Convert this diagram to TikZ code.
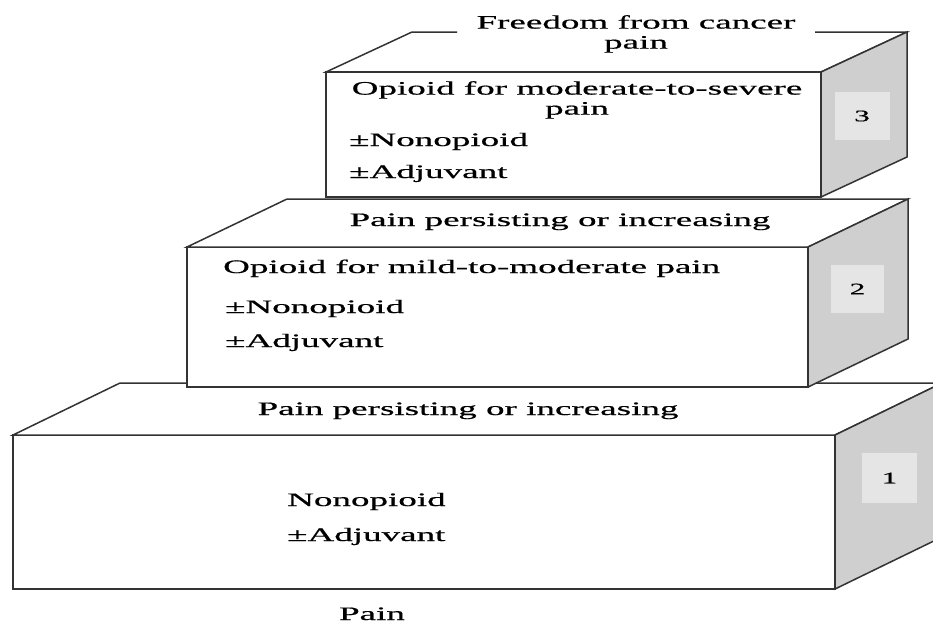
\documentclass[tikz,border=0pt]{standalone}
\usepackage{fontspec}
\setmainfont{Liberation Serif}[FakeStretch=1.95, FakeBold=0.6]
\usetikzlibrary{calc}

% one step of the ladder: front face, top face and shaded side face
% #1,#2 = front top-left, #3,#4 = front bottom-right, #5,#6 = depth offset
\newcommand{\ladderblock}[6]{%
  \draw[facestyle] (#1,#2) rectangle (#3,#4);
  \draw[facestyle] (#1,#2) -- ++(#5,-#6) -- ($(#3,#2)+(#5,-#6)$) -- (#3,#2) -- cycle;
  \draw[sidestyle] (#3,#2) -- ++(#5,-#6) -- ++(0,#4-#2) -- (#3,#4) -- cycle;
}

\begin{document}
\begin{tikzpicture}[x=1pt,y=-1pt,
  edgestyle/.style={draw=black!80, line width=1.5pt, line join=miter},
  facestyle/.style={edgestyle, fill=white},
  sidestyle/.style={edgestyle, fill=black!19},
  tagstyle/.style={fill=black!10, inner sep=0pt, minimum width=55pt, minimum height=48pt,
    font=\fontsize{16}{16}\selectfont},
  lbl/.style={inner sep=0pt, font=\fontsize{19}{20}\selectfont},
]
\useasboundingbox (0,0) rectangle (933,625);
\clip (0,0) rectangle (933,625);

% step 1 (bottom)
\ladderblock{13}{435}{835}{589}{107}{52}
% step 2
\ladderblock{187}{247}{808}{387}{100}{48}
% step 3 (top): back edge of the top face is broken for the heading
\fill[white] (326,72) -- (412,32) -- (907,32) -- (821,72) -- cycle;
\draw[edgestyle] (457,32) -- (412,32) -- (326,72) -- (821,72) -- (907,32) -- (815,32);
\draw[facestyle] (326,72) rectangle (821,197);
\draw[sidestyle] (821,72) -- (907,32) -- (907,157) -- (821,197) -- cycle;

% step numbers on the side faces
\node[tagstyle] (n3) at (862,116) {3};
\node[tagstyle, minimum width=53pt] (n2) at (857.5,289) {2};
\node[tagstyle, minimum height=50pt] (n1) at (889.5,478) {1};

% labels
\node[lbl, anchor=north, align=center] (goal) at (636,15) {Freedom from cancer\\pain};
\node[lbl, anchor=north, align=center] (s3a) at (577,81) {Opioid for moderate-to-severe\\pain};
\node[lbl, anchor=base west] (s3b) at (349,146) {±Nonopioid};
\node[lbl, anchor=base west] (s3c) at (349,178) {±Adjuvant};

\node[lbl, anchor=base] (p2) at (560,226) {Pain persisting or increasing};
\node[lbl, anchor=base west] (s2a) at (223,273) {Opioid for mild-to-moderate pain};
\node[lbl, anchor=base west] (s2b) at (225,313) {±Nonopioid};
\node[lbl, anchor=base west] (s2c) at (225,347) {±Adjuvant};

\node[lbl, anchor=base] (p1) at (468,415) {Pain persisting or increasing};
\node[lbl, anchor=base west] (s1a) at (287,506) {Nonopioid};
\node[lbl, anchor=base west] (s1b) at (287,541) {±Adjuvant};

\node[lbl, anchor=base] (p0) at (372,620) {Pain};
\end{tikzpicture}
\end{document}
